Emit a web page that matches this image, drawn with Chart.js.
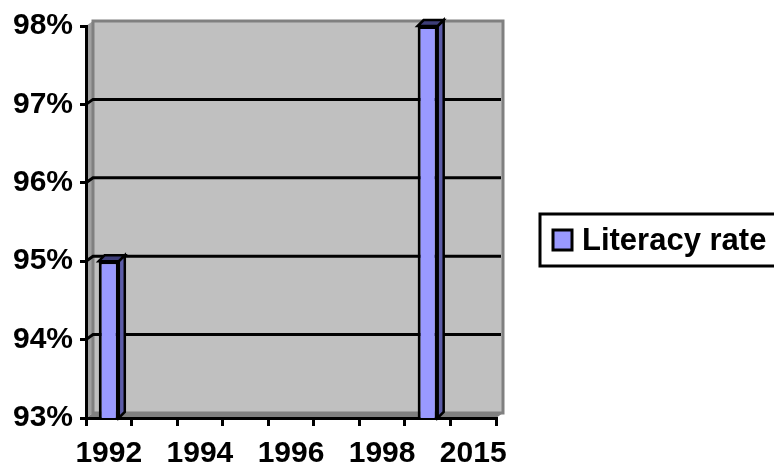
<!DOCTYPE html>
<html>
<head>
<meta charset="utf-8">
<script src="https://cdn.jsdelivr.net/npm/chart.js@4"></script>
<style>
  html, body { margin: 0; padding: 0; background: #fff; }
  #wrap { width: 774px; height: 468px; position: relative; }
</style>
</head>
<body>
<div id="wrap"><canvas id="c" width="774" height="468"></canvas></div>
<script>
const categories = ['1992', '1993', '1994', '1995', '1996', '1997', '1998', '1999', '2015'];
const literacyRate = [95, null, null, null, null, null, null, 98, null];
const seriesName = 'Literacy rate';
const yMin = 93, yMax = 98, yStep = 1;

const FONT = "'Liberation Sans', Arial, Helvetica, sans-serif";
Chart.defaults.font.family = FONT;
Chart.defaults.font.weight = 'bold';
Chart.defaults.font.size = 30;
Chart.defaults.color = '#000';

const DX = 7, DY = 5;     // wall depth
const BDX = 6, BDY = 6;   // bar depth

const wallPlugin = {
  id: 'wall',
  beforeDraw(chart) {
    const { ctx, chartArea: a, scales } = chart;
    const L = a.left, R = a.right, T = a.top, B = a.bottom;
    ctx.save();
    ctx.fillStyle = '#A0A0A0';
    ctx.beginPath();
    ctx.moveTo(L, T); ctx.lineTo(L + DX, T - DY); ctx.lineTo(L + DX, B - DY); ctx.lineTo(L, B);
    ctx.closePath(); ctx.fill();
    ctx.fillStyle = '#808080';
    ctx.beginPath();
    ctx.moveTo(L, B); ctx.lineTo(L + DX, B - DY); ctx.lineTo(R + DX, B - DY); ctx.lineTo(R, B);
    ctx.closePath(); ctx.fill();
    ctx.fillStyle = '#C0C0C0';
    ctx.fillRect(L + DX, T - DY, R - L, B - T);
    ctx.strokeStyle = '#808080';
    ctx.lineWidth = 3;
    ctx.strokeRect(L + DX, T - DY, R - L, B - T);
    const ys = scales.y;
    ctx.strokeStyle = '#000';
    ctx.lineWidth = 3;
    for (let v = yMin + yStep; v < yMax; v += yStep) {
      const yf = ys.getPixelForValue(v);
      ctx.beginPath();
      ctx.moveTo(L, yf);
      ctx.lineTo(L + DX, yf - DY);
      ctx.lineTo(R + DX - 2, yf - DY);
      ctx.stroke();
    }
    ctx.restore();
  },
  afterDatasetsDraw(chart) {
    const { ctx, chartArea: a } = chart;
    const meta = chart.getDatasetMeta(0);
    ctx.save();
    ctx.lineWidth = 2.5;
    ctx.strokeStyle = '#000';
    ctx.lineJoin = 'miter';
    meta.data.forEach((bar, i) => {
      if (literacyRate[i] == null) return;
      const p = bar.getProps(['x', 'y', 'base', 'width'], true);
      const l = p.x - p.width / 2, r = p.x + p.width / 2;
      const t = Math.max(p.y, a.top), b = Math.min(p.base, a.bottom);
      ctx.fillStyle = '#5C5CA8';
      ctx.beginPath();
      ctx.moveTo(r, t); ctx.lineTo(r + BDX, t - BDY); ctx.lineTo(r + BDX, b - BDY); ctx.lineTo(r, b);
      ctx.closePath(); ctx.fill(); ctx.stroke();
      ctx.fillStyle = '#3E3E78';
      ctx.beginPath();
      ctx.moveTo(l, t); ctx.lineTo(l + BDX, t - BDY); ctx.lineTo(r + BDX, t - BDY); ctx.lineTo(r, t);
      ctx.closePath(); ctx.fill(); ctx.stroke();
    });
    ctx.restore();
  },
  afterDraw(chart) {
    const { ctx } = chart;
    ctx.save();
    ctx.strokeStyle = '#000';
    ctx.lineWidth = 3;
    ctx.fillStyle = '#fff';
    ctx.fillRect(540, 214, 240, 52);
    ctx.strokeRect(540, 214, 240, 52);
    ctx.fillStyle = '#9999FF';
    ctx.fillRect(553, 230, 19, 20);
    ctx.lineWidth = 3;
    ctx.strokeRect(553, 230, 19, 20);
    ctx.fillStyle = '#000';
    ctx.font = 'bold 31px ' + FONT;
    ctx.textBaseline = 'middle';
    ctx.textAlign = 'left';
    ctx.fillText(chart.data.datasets[0].label, 582, 241);
    ctx.restore();
  }
};

new Chart(document.getElementById('c'), {
  type: 'bar',
  data: {
    labels: categories,
    datasets: [{
      label: seriesName,
      data: literacyRate,
      backgroundColor: '#9999FF',
      borderColor: '#000',
      borderWidth: 3,
      borderSkipped: false,
      barPercentage: 0.44,
      categoryPercentage: 1.0
    }]
  },
  options: {
    responsive: false,
    animation: false,
    devicePixelRatio: 1,
    layout: { padding: { left: 0, right: 278, top: 26, bottom: 0 } },
    plugins: { legend: { display: false }, tooltip: { enabled: false } },
    scales: {
      x: {
        type: 'category',
        offset: true,
        ticks: {
          autoSkip: false, maxRotation: 0, minRotation: 0, padding: 10,
          callback(v, i) { return i % 2 === 0 ? this.getLabelForValue(v) : ''; }
        },
        grid: { offset: true, drawOnChartArea: false, drawTicks: true, tickLength: 8, color: '#000', lineWidth: 3 },
        border: { display: true, color: '#000', width: 3 },
        afterFit(s) { s.height = 50; }
      },
      y: {
        min: yMin, max: yMax,
        ticks: { stepSize: yStep, padding: 7, callback: v => v + '%' },
        grid: { drawOnChartArea: false, drawTicks: true, tickLength: 6, color: '#000', lineWidth: 3 },
        border: { display: true, color: '#000', width: 3 },
        afterFit(s) { s.width = 86; }
      }
    }
  },
  plugins: [wallPlugin]
});
</script>
</body>
</html>
